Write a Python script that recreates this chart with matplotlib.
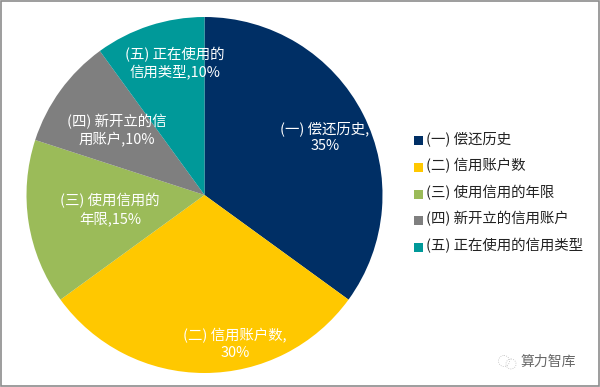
import matplotlib
matplotlib.use("Agg")
import matplotlib.pyplot as plt
from matplotlib.patches import Circle, Rectangle

plt.rcParams['font.family'] = ['Noto Sans CJK SC', 'DejaVu Sans']

categories = ["(一) 偿还历史", "(二) 信用账户数", "(三) 使用信用的年限", "(四) 新开立的信用账户", "(五) 正在使用的信用类型"]
values = [35, 30, 15, 10, 10]
colors = ["#002F65", "#FFC800", "#9BBB59", "#7F7F7F", "#009999"]
slice_labels = ["(一) 偿还历史,\n35%", "(二) 信用账户数,\n30%", "(三) 使用信用的\n年限,15%", "(四) 新开立的信\n用账户,10%", "(五) 正在使用的\n信用类型,10%"]
label_pos = [(325, 137), (235, 344), (110, 210), (117, 131), (175, 64)]

W, H = 600, 387
fig = plt.figure(figsize=(W / 100, H / 100), dpi=100)
ax = fig.add_axes([0, 0, 1, 1])

# y axis runs downwards here, so the pie goes clockwise with counterclock=True
wedges, _ = ax.pie(values, colors=colors, center=(204.5, 195), radius=178, startangle=-90,
                   counterclock=True, frame=True)
ax.set_xlim(0, W)
ax.set_ylim(H, 0)
ax.set_aspect("auto")
ax.axis("off")

for text, (x, y) in zip(slice_labels, label_pos):
    ax.text(x, y, text, color="white", fontsize=10.4, ha="center", va="center", linespacing=1.27)

# legend
legend_y = [140, 167, 194, 220, 247]
for name, color, y in zip(categories, colors, legend_y):
    ax.add_patch(Rectangle((414, y - 4), 9, 9, color=color, lw=0))
    ax.text(426, y - 1, name, color="#222222", fontsize=10.4, ha="left", va="center")

# watermark
ax.text(521, 362, "算力智库", color="#666666", fontsize=10, ha="left", va="center")
ax.add_patch(Circle((504, 361), 5.5, fill=False, ec="#bbbbbb", lw=0.6, ls=":"))
ax.add_patch(Circle((511, 364), 5, fill=False, ec="#bbbbbb", lw=0.6, ls=":"))

# outer frame
ax.add_patch(Rectangle((0.5, 0.5), W - 2, H - 2, fill=False, ec="#8c8c8c", lw=1.2))

fig.savefig("out.png", dpi=100, facecolor="white")
